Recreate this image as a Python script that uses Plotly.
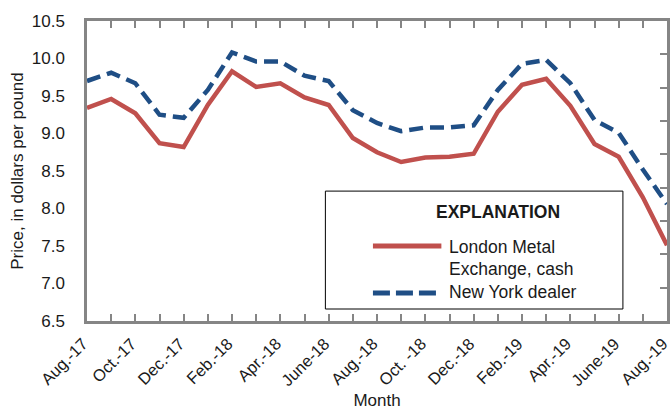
import plotly.graph_objects as go

months = ["Aug.-17", "Sep.-17", "Oct.-17", "Nov.-17", "Dec.-17", "Jan.-18", "Feb.-18", "Mar.-18",
          "Apr.-18", "May-18", "June-18", "July-18", "Aug.-18", "Sep.-18", "Oct. -18", "Nov.-18",
          "Dec.-18", "Jan.-19", "Feb.-19", "Mar.-19", "Apr.-19", "May-19", "June-19", "July-19", "Aug.-19"]
london = [9.34, 9.46, 9.27, 8.87, 8.82, 9.38, 9.83, 9.62, 9.67, 9.48, 9.38, 8.94, 8.75,
          8.62, 8.68, 8.69, 8.73, 9.29, 9.65, 9.73, 9.37, 8.86, 8.69, 8.15, 7.51]
newyork = [9.70, 9.81, 9.67, 9.25, 9.21, 9.58, 10.08, 9.96, 9.96, 9.77, 9.70, 9.31, 9.14,
           9.03, 9.08, 9.08, 9.11, 9.58, 9.93, 9.98, 9.67, 9.18, 9.01, 8.52, 8.06]
series_names = ["London Metal<br>Exchange, cash", "New York dealer"]
legend_title = "EXPLANATION"
label_every = 2
yticks = [6.5, 7.0, 7.5, 8.0, 8.5, 9.0, 9.5, 10.0, 10.5]
right_divisions = 9

x = list(range(len(months)))
ticktext = [m if i % label_every == 0 else "" for i, m in enumerate(months)]

FONT = "Liberation Sans, Arial, sans-serif"
RED = "#C0504D"
BLUE = "#1F4E85"
AXIS = "#858585"
TXT = "#1a1a1a"

fig = go.Figure()
fig.add_trace(go.Scatter(x=x, y=london, mode="lines", name=series_names[0],
                         line=dict(color=RED, width=4.5), showlegend=False))
fig.add_trace(go.Scatter(x=x, y=newyork, mode="lines", name=series_names[1],
                         line=dict(color=BLUE, width=4.5, dash="14px,7px"), showlegend=False))
# invisible trace to carry the right-hand tick axis
fig.add_trace(go.Scatter(x=[None], y=[None], yaxis="y2", showlegend=False, hoverinfo="skip"))

# explanation box
fig.add_shape(type="rect", xref="paper", yref="paper", x0=0.411, x1=0.924, y0=0.04, y1=0.433,
              line=dict(color="black", width=1), fillcolor="white", layer="below")
fig.add_annotation(xref="paper", yref="paper", x=0.708, y=0.363, xanchor="center", yanchor="middle",
                   text=f"<b>{legend_title}</b>", showarrow=False,
                   font=dict(family=FONT, size=17.5, color=TXT))
# legend samples
fig.add_shape(type="line", xref="paper", yref="paper", x0=0.493, x1=0.611, y0=0.250, y1=0.250,
              line=dict(color=RED, width=5))
fig.add_shape(type="line", xref="paper", yref="paper", x0=0.493, x1=0.611, y0=0.093, y1=0.093,
              line=dict(color=BLUE, width=5, dash="17px,6px"))
name_lines = series_names[0].split("<br>")
for txt, yy in [(name_lines[0], 0.247), (name_lines[1], 0.172), (series_names[1], 0.096)]:
    fig.add_annotation(xref="paper", yref="paper", x=0.621, y=yy, xanchor="left", yanchor="middle",
                       text=txt, showarrow=False, font=dict(family=FONT, size=17.5, color=TXT))

fig.update_layout(
    width=670, height=411,
    margin=dict(l=87, r=3, t=21, b=90),
    paper_bgcolor="white", plot_bgcolor="white",
    font=dict(family=FONT, size=17, color=TXT),
    showlegend=False,
    xaxis=dict(range=[0, 24], tickmode="array", tickvals=x, ticktext=ticktext, tickangle=-45,
               ticks="inside", ticklen=7, tickwidth=1.5, tickcolor=AXIS,
               showline=True, linecolor=AXIS, linewidth=2.5, mirror="ticks",
               showgrid=False, zeroline=False, tickfont=dict(size=16.5), automargin=False,
               ticklabeloverflow="allow", ticklabelstandoff=4, ticklabelshift=-4,
               title=dict(text="Month", font=dict(size=17), standoff=6)),
    yaxis=dict(range=[6.5, 10.5], tickmode="array", tickvals=yticks,
               ticktext=[f"{v:.1f}" for v in yticks], ticks="",
               showline=True, linecolor=AXIS, linewidth=2.5, mirror=True,
               showgrid=False, zeroline=False, tickfont=dict(size=17), automargin=False,
               ticklabelstandoff=16, ticklabeloverflow="allow",
               title=dict(text="Price, in dollars per pound", font=dict(size=17), standoff=4)),
    yaxis2=dict(overlaying="y", side="right", range=[0, right_divisions],
                tickvals=list(range(1, right_divisions)), showticklabels=False,
                ticks="inside", ticklen=7, tickwidth=1.5, tickcolor=AXIS,
                showline=False, showgrid=False, zeroline=False, automargin=False),
)

fig.write_html("out.html", config={"displayModeBar": False},
               post_script="document.body.style.margin='0';document.body.style.overflow='hidden';")
